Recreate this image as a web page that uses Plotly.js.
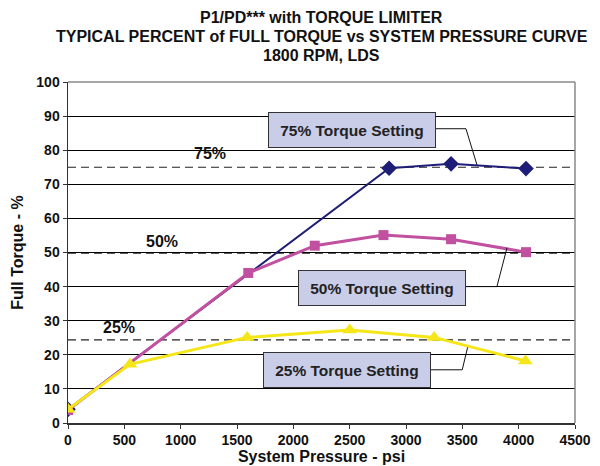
<!DOCTYPE html>
<html>
<head>
<meta charset="utf-8">
<script src="https://cdn.plot.ly/plotly-3.0.1.min.js"></script>
<style>html,body{margin:0;padding:0;background:#fff}#chart{width:600px;height:466px}</style>
</head>
<body>
<div id="chart"></div>
<script>
// ---- data ----
const x75 = [0, 2850, 3400, 4065];
const y75 = [4, 74.7, 76, 74.6];
const x50 = [0, 1600, 2190, 2800, 3400, 4065];
const y50 = [3.8, 44, 52, 55.1, 53.9, 50.1];
const x25 = [0, 550, 1590, 2500, 3250, 4060];
const y25 = [4, 17.2, 25.1, 27.3, 25.1, 18.2];
const settingLevels = [75, 49.8, 24.4];
const settingLabels = ["75%", "50%", "25%"];
const settingLabelX = [1258, 834, 456];
const settingLabelY = [79.0, 53.3, 27.9];
const boxTexts = ["75% Torque Setting", "50% Torque Setting", "25% Torque Setting"];
const boxX = [2520, 2784, 2475];
const boxY = [86.0, 39.7, 15.5];
// leader lines: [box edge, kink, point on curve]
const leaderX = [[3266, 3532, 3630], [3523, 3807, 3896], [3221, 3499, 3547]];
const leaderY = [[86.3, 86.3, 75.7], [40.0, 40.0, 51.3], [15.6, 15.6, 22.2]];
const titleLines = ["P1/PD*** with TORQUE LIMITER",
                    "TYPICAL PERCENT of FULL TORQUE vs SYSTEM PRESSURE CURVE",
                    "1800 RPM, LDS"];
const xTicks = [0, 500, 1000, 1500, 2000, 2500, 3000, 3500, 4000, 4500];
const yTicks = [0, 10, 20, 30, 40, 50, 60, 70, 80, 90, 100];

const FONT = '"Liberation Sans", Arial, sans-serif';
const colors = {c75: '#1e1e78', c50: '#c150a0', c25: '#f4e619'};

const traces = [
  {x: x75, y: y75, mode: 'lines+markers', line: {color: colors.c75, width: 2},
   marker: {symbol: 'diamond', size: 12, color: colors.c75}},
  {x: x50, y: y50, mode: 'lines+markers', line: {color: colors.c50, width: 3},
   marker: {symbol: 'square', size: 10, color: colors.c50}},
  {x: x25, y: y25, mode: 'lines+markers', line: {color: colors.c25, width: 3},
   marker: {symbol: 'triangle-up', size: 13, color: colors.c25}}
];

const shapes = [];
settingLevels.forEach(v => shapes.push({type: 'line', xref: 'x', yref: 'y', x0: 0, x1: 4500, y0: v, y1: v,
  line: {color: '#222', width: 1.2, dash: '8px,5px'}, layer: 'below'}));
// top and right border
shapes.push({type: 'line', xref: 'paper', yref: 'paper', x0: 0, x1: 1, y0: 1, y1: 1, line: {color: '#888', width: 1.5}});
shapes.push({type: 'line', xref: 'paper', yref: 'paper', x0: 1, x1: 1, y0: 0, y1: 1, line: {color: '#888', width: 1.5}});
leaderX.forEach((lx, i) => {
  const ly = leaderY[i];
  shapes.push({type: 'path', xref: 'x', yref: 'y',
    path: `M ${lx[0]} ${ly[0]} L ${lx[1]} ${ly[1]} L ${lx[2]} ${ly[2]}`,
    line: {color: '#111', width: 1}});
});

const annotations = [];
const titleY = [18, 37, 55]; // pixel centres of title lines
titleLines.forEach((t, i) => annotations.push({x: 0.5, xref: 'paper', y: (423 - titleY[i]) / 341, yref: 'paper',
  yanchor: 'middle', text: '<b>' + t + '</b>', showarrow: false, font: {family: FONT, size: 16, color: '#111'}}));
settingLabels.forEach((t, i) => annotations.push({x: settingLabelX[i], y: settingLabelY[i], xref: 'x', yref: 'y',
  text: '<b>' + t + '</b>', showarrow: false, font: {family: FONT, size: 16, color: '#111'}}));
boxTexts.forEach((t, i) => annotations.push({x: boxX[i], y: boxY[i], xref: 'x', yref: 'y',
  text: '<b>' + t + '</b>', showarrow: false, width: 166, height: 34, borderpad: 0,
  bgcolor: '#c9cde8', bordercolor: '#333', borderwidth: 1,
  font: {family: FONT, size: 15.5, color: '#222'}}));

const layout = {
  width: 600, height: 466,
  margin: {l: 68, r: 25, t: 82, b: 43},
  paper_bgcolor: '#fff', plot_bgcolor: '#fff',
  showlegend: false,
  font: {family: FONT, color: '#111'},
  xaxis: {range: [0, 4500], tickvals: xTicks, ticktext: xTicks.map(String), showgrid: false, zeroline: false,
    showline: true, linecolor: '#333', linewidth: 1.5, ticks: 'outside', ticklen: 4, tickcolor: '#333',
    tickfont: {family: FONT, size: 14, color: '#111', weight: 'bold'},
    title: {text: '<b>System Pressure - psi</b>', font: {family: FONT, size: 16, color: '#111'}, standoff: 2}},
  yaxis: {range: [0, 100], tickvals: yTicks, ticktext: yTicks.map(String), showgrid: true, gridcolor: '#000', gridwidth: 1,
    zeroline: false, showline: true, linecolor: '#333', linewidth: 1.5, ticks: 'outside', ticklen: 4, tickcolor: '#333',
    tickfont: {family: FONT, size: 14, color: '#111', weight: 'bold'},
    title: {text: '<b>Full Torque - %</b>', font: {family: FONT, size: 16, color: '#111'}, standoff: 8}},
  shapes: shapes,
  annotations: annotations
};

Plotly.newPlot('chart', traces, layout, {displayModeBar: false, staticPlot: true});
</script>
</body>
</html>
